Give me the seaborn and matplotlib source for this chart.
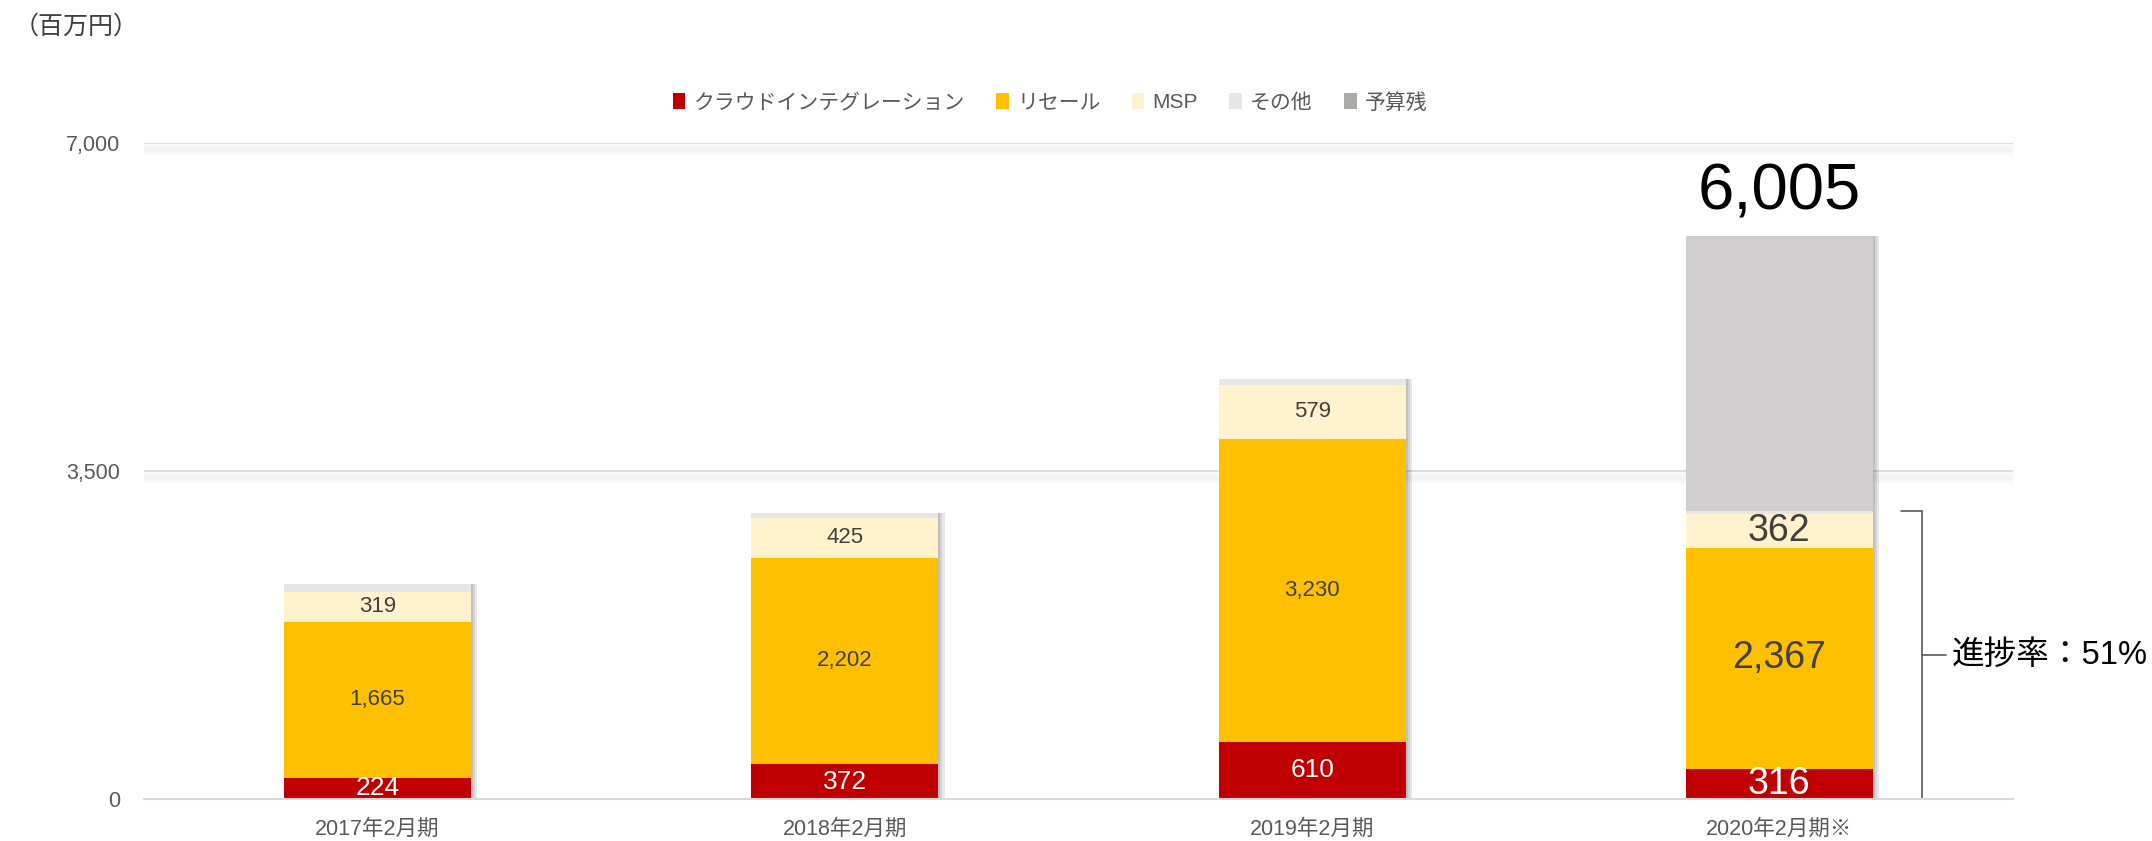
import numpy as np
import pandas as pd
import matplotlib.pyplot as plt
import matplotlib.patches as mpatches
import matplotlib.patheffects as pe
import seaborn as sns


### values in 百万円
years = ['2017年2月期', '2018年2月期', '2019年2月期', '2020年2月期※']
cloud = [224, 372, 610, 316]
resale = [1665, 2202, 3230, 2367]
msp = [319, 425, 579, 362]
other = [85, 55, 60, 25]
budget = [0, 0, 0, 2935]
target_2020 = 6005
progress_text = '進捗率：51%'

series_names = ['クラウドインテグレーション', 'リセール', 'MSP', 'その他', '予算残']
layers = ['cloud', 'resale', 'msp', 'other', 'budget']
bar_colors = ['#C00000', '#FFC000', '#FFF2CC', '#E7E6E6', '#D0CECE']
legend_colors = ['#C00000', '#FFC000', '#FFF2CC', '#E7E6E6', '#AEAAAA']

sns.set_style('white')
plt.rcParams['font.family'] = ['Liberation Sans', 'Noto Sans CJK JP']

df = pd.DataFrame({'year': years, 'cloud': cloud, 'resale': resale,
                   'msp': msp, 'other': other, 'budget': budget})
cum = df[layers].cumsum(axis=1)

fig = plt.figure(figsize=(21.52, 8.41), dpi=100)
ax = fig.add_axes([0.0669, 0.05, 0.8685, 0.78])

### gridlines with a soft shadow underneath
grid_fx = [pe.SimpleLineShadow(offset=(0, -o), shadow_color='k', alpha=0.025, linewidth=4)
           for o in (3, 5, 7)] + [pe.Normal()]
for yv in [3500, 7000]:
    ax.axhline(yv, color='#D9D9D9', lw=1.3, zorder=0, path_effects=grid_fx)

### stacked bars: draw cumulative totals from the top layer down
bar_fx = [pe.SimplePatchShadow(offset=(o, 0), shadow_rgbFace='k', alpha=0.09)
          for o in (1.5, 3, 4.5)] + [pe.Normal()]
for i in range(len(layers) - 1, -1, -1):
    kw = {}
    if i == len(layers) - 1:
        kw['path_effects'] = bar_fx
    sns.barplot(x=df['year'], y=cum[layers[i]], color=bar_colors[i], width=0.4,
                saturation=1, linewidth=0, edgecolor='none', ax=ax, **kw)

### segment labels
for i in range(len(years)):
    vals = [cloud[i], resale[i], msp[i]]
    bottoms = [0, cum.loc[i, 'cloud'], cum.loc[i, 'resale']]
    for k, (b, v) in enumerate(zip(bottoms, vals)):
        if i == 3:
            size = 27
        else:
            size = 19 if k == 0 else 16
        col = 'white' if k == 0 else '#404040'
        ax.text(i, b + v / 2, f'{v:,}', ha='center', va='center',
                fontsize=size, color=col, zorder=5)

ax.annotate(f'{target_2020:,}', xy=(3, cum.loc[3, 'budget']), xytext=(0, 19),
            textcoords='offset points', ha='center', va='baseline',
            fontsize=47, color='black')

### bracket for progress rate
top = cum.loc[3, 'other']
ax.plot([3.26, 3.306, 3.306, 3.26], [top, top, 0, 0], color='#595959', lw=1.2,
        clip_on=False, solid_joinstyle='miter')
ax.plot([3.306, 3.356], [top / 2, top / 2], color='#595959', lw=1.2, clip_on=False)
ax.text(3.369, top / 2, progress_text, ha='left', va='center', fontsize=23.5,
        color='black')

### axes
ax.set_xlim(-0.5, 3.5)
ax.set_ylim(0, 7000)
ax.set_yticks([0, 3500, 7000])
ax.set_yticklabels([f'{v:,}' for v in [0, 3500, 7000]])
ax.set_xlabel('')
ax.set_ylabel('')
ax.tick_params(axis='y', length=0, pad=17, labelsize=15.5, labelcolor='#595959')
ax.tick_params(axis='x', length=0, pad=14, labelsize=15.5, labelcolor='#595959')
ax.set_xticks([-0.5, 3.5], minor=True)
ax.tick_params(axis='x', which='minor', length=4, width=1.5, color='#D9D9D9',
               direction='out')
for s in ['left', 'top', 'right']:
    ax.spines[s].set_visible(False)
ax.spines['bottom'].set_color('#D9D9D9')
ax.spines['bottom'].set_linewidth(1.5)

handles = [mpatches.Patch(facecolor=c, edgecolor='none', label=n)
           for c, n in zip(legend_colors, series_names)]
fig.legend(handles=handles, loc='center', bbox_to_anchor=(0.488, 0.878), ncol=5,
           frameon=False, fontsize=15, handlelength=0.6, handleheight=0.8,
           handletextpad=0.4, columnspacing=1.5, labelcolor='#595959')

fig.text(0.0065, 1 - 27 / 841, '（百万円）', fontsize=18, color='#404040',
         ha='left', va='center')

fig.savefig('out.png', dpi=100)
